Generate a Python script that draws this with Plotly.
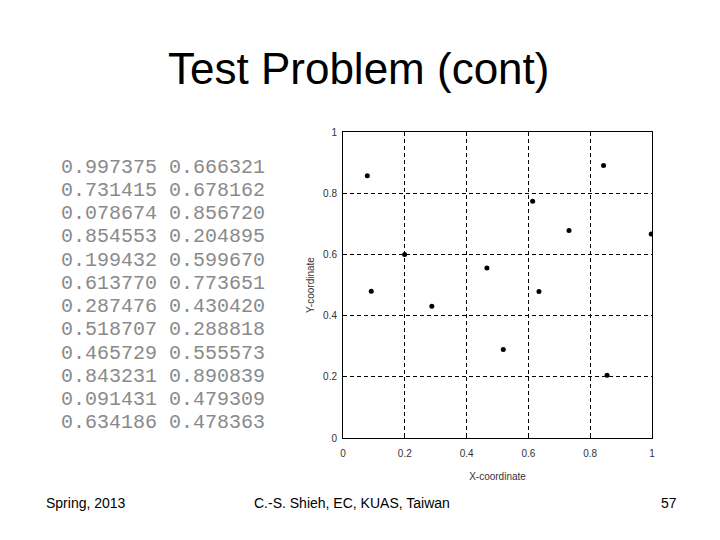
import plotly.graph_objects as go

x_vals = [0.997375, 0.731415, 0.078674, 0.854553, 0.199432, 0.613770,
          0.287476, 0.518707, 0.465729, 0.843231, 0.091431, 0.634186]
y_vals = [0.666321, 0.678162, 0.856720, 0.204895, 0.599670, 0.773651,
          0.430420, 0.288818, 0.555573, 0.890839, 0.479309, 0.478363]
tick_vals = [0, 0.2, 0.4, 0.6, 0.8, 1]
tick_text = ["0", "0.2", "0.4", "0.6", "0.8", "1"]

title_text = "Test Problem (cont)"
footer_left = "Spring, 2013"
footer_mid = "C.-S. Shieh, EC, KUAS, Taiwan"
footer_right = "57"

OFF = 8  # page body margin
W, H = 720 - OFF, 540 - OFF
L, R, T, B = 343 - OFF, 652 - OFF, 132 - OFF, 438 - OFF


def px(x):
    return (x - OFF - L) / (R - L)


def py(y):
    return (B - (y - OFF)) / (B - T)


fig = go.Figure()
fig.add_trace(go.Scatter(
    x=x_vals, y=y_vals, mode="markers",
    marker=dict(color="black", size=5, symbol="circle"),
    showlegend=False, hoverinfo="x+y"))

annotations = []
row_top, row_step = 167, 23.27
for i, (xv, yv) in enumerate(zip(x_vals, y_vals)):
    annotations.append(dict(
        xref="paper", yref="paper", x=px(59), y=py(row_top + i * row_step),
        xanchor="left", yanchor="middle", showarrow=False,
        text=f"{xv:.6f} {yv:.6f}",
        font=dict(family="Liberation Mono, DejaVu Sans Mono, monospace", size=20, color="#8a8a8a")))

annotations.append(dict(xref="paper", yref="paper", x=px(358), y=py(68),
                        xanchor="center", yanchor="middle", showarrow=False,
                        text=title_text,
                        font=dict(family="Liberation Sans, Arial", size=44, color="black")))
for txt, xpos, anchor in [(footer_left, 44, "left"), (footer_mid, 352, "center"), (footer_right, 679, "right")]:
    annotations.append(dict(xref="paper", yref="paper", x=px(xpos), y=py(503),
                            xanchor=anchor, yanchor="middle", showarrow=False, text=txt,
                            font=dict(family="Liberation Sans, Arial", size=14, color="black")))

axis_common = dict(
    range=[0, 1], tickmode="array", tickvals=tick_vals, ticktext=tick_text,
    showgrid=True, gridcolor="black", griddash="4px,3px", gridwidth=1,
    showline=True, linecolor="black", linewidth=1, mirror=True,
    zeroline=False, ticks="inside", ticklen=3, tickcolor="black",
    tickfont=dict(family="Liberation Sans, Arial", size=10, color="#333"),
    fixedrange=True)

fig.update_layout(
    width=W, height=H,
    margin=dict(l=L, r=W - R, t=T, b=H - B, pad=0),
    paper_bgcolor="white", plot_bgcolor="white",
    xaxis=dict(**axis_common, ticklabelstandoff=6,
               title=dict(text="X-coordinate", standoff=14,
                          font=dict(family="Liberation Sans, Arial", size=10, color="#333"))),
    yaxis=dict(**axis_common, ticklabelstandoff=3,
               title=dict(text="Y-coordinate", standoff=6,
                          font=dict(family="Liberation Sans, Arial", size=10, color="#333"))),
    annotations=annotations,
)

fig.write_html("out.html")
